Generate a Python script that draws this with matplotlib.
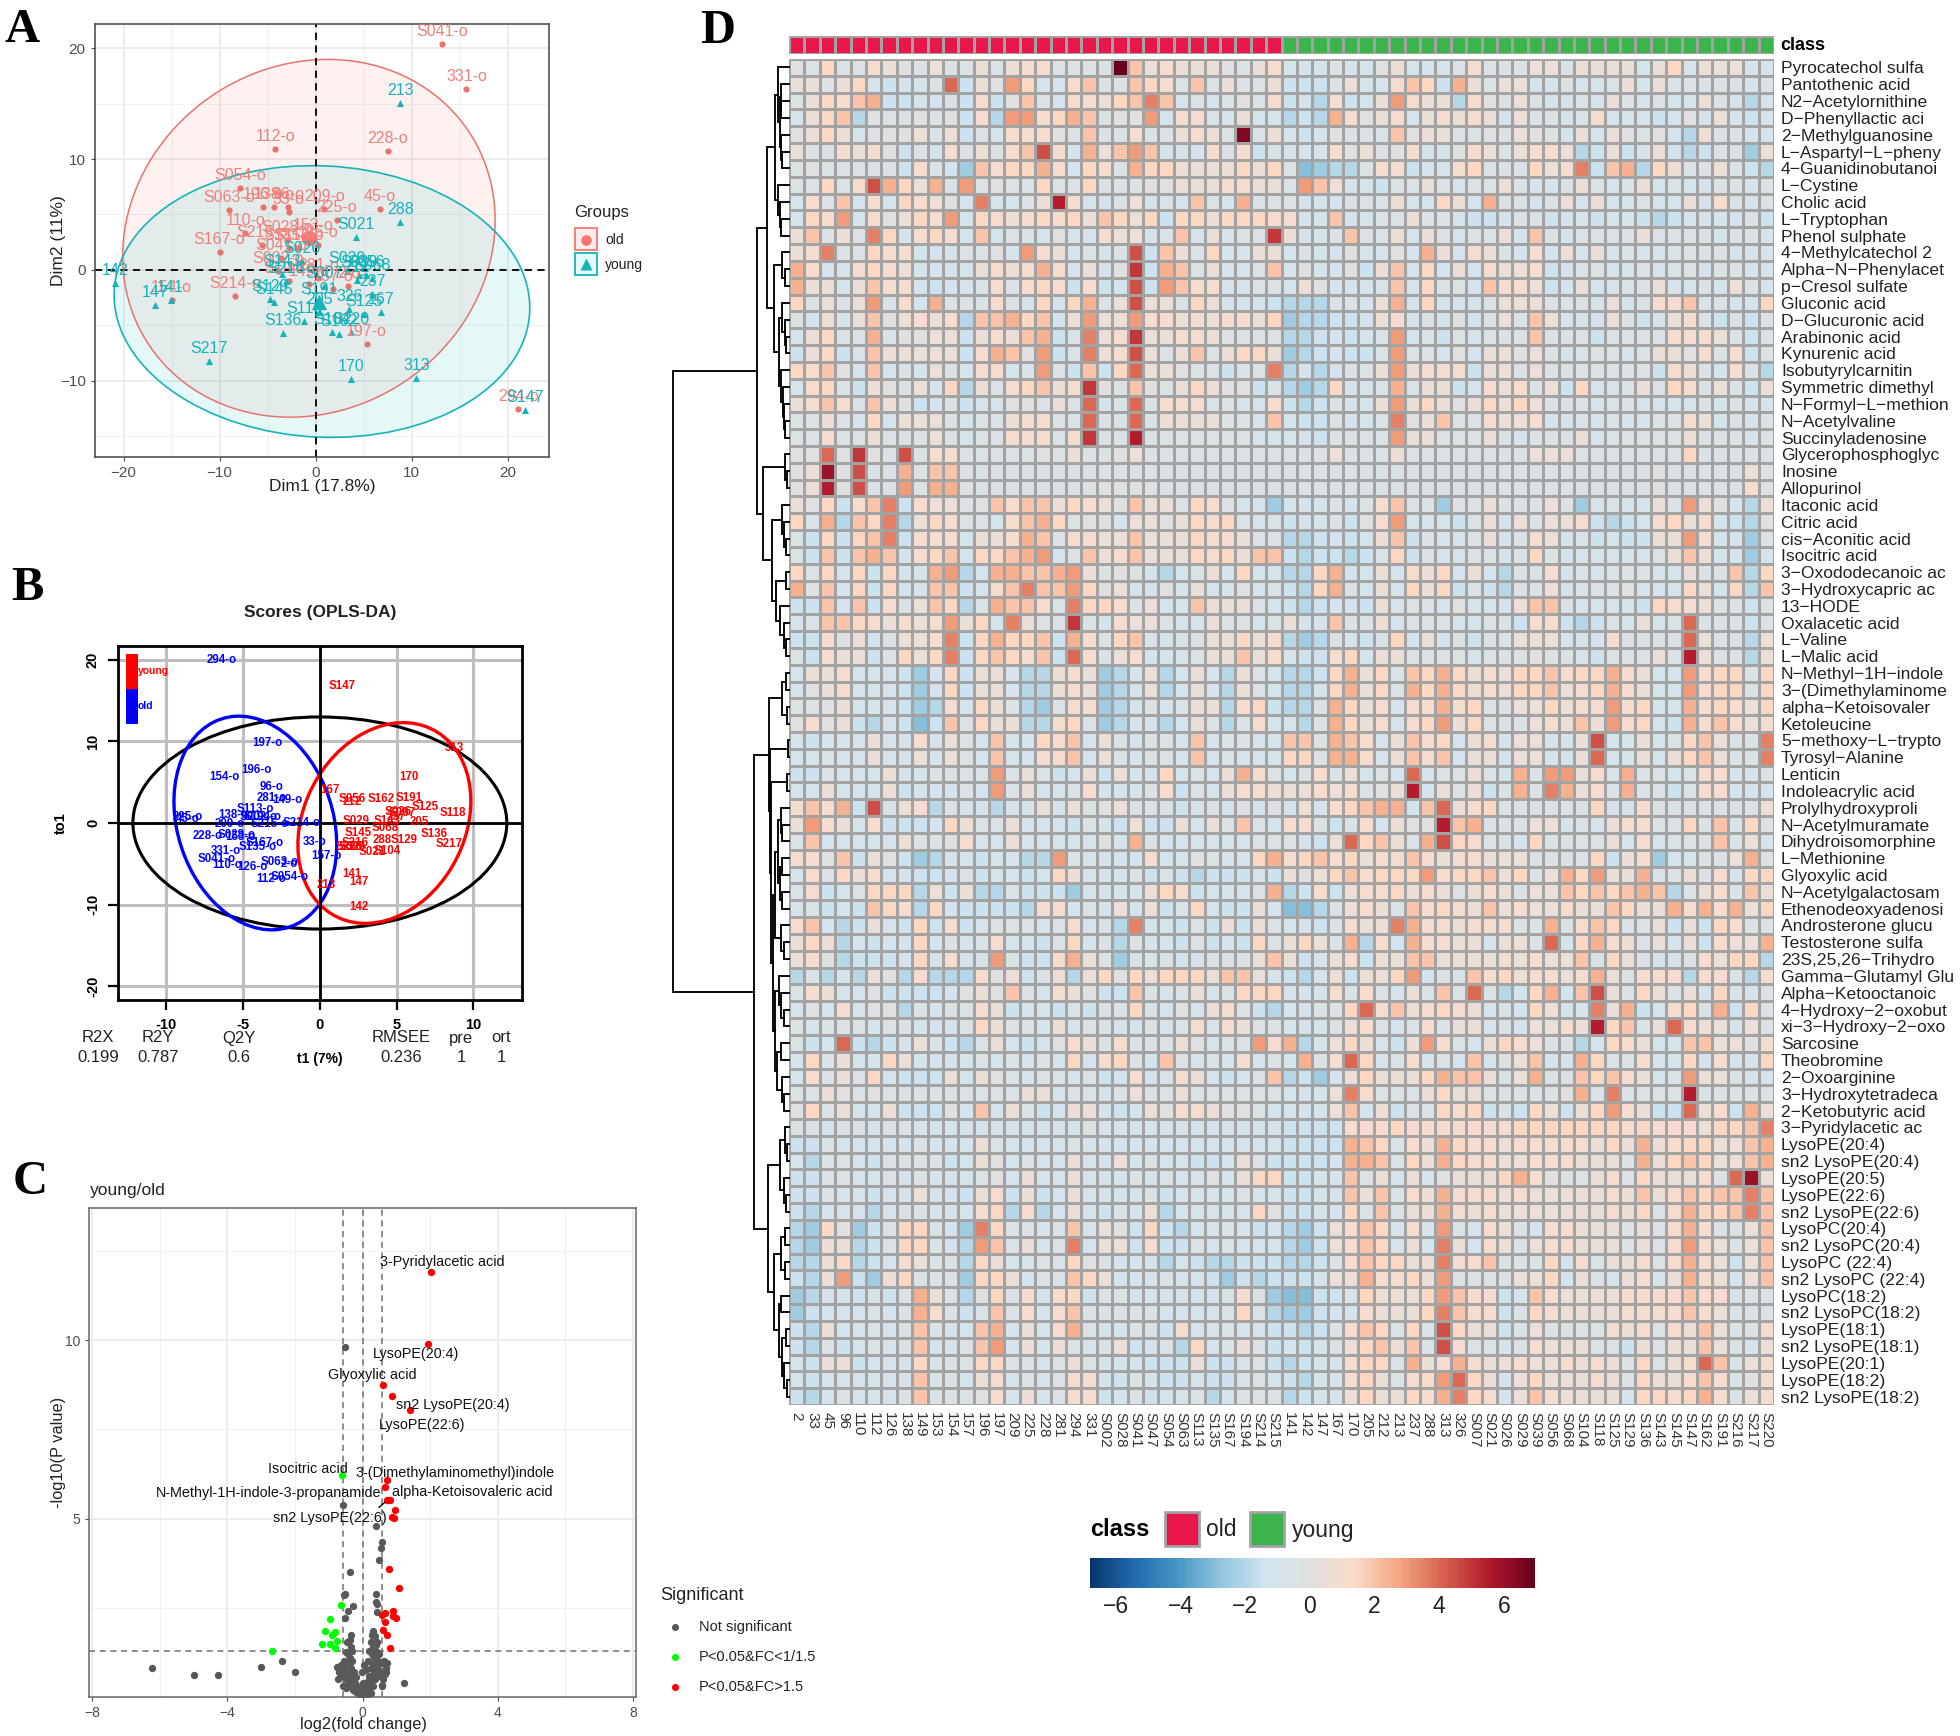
import numpy as np
import matplotlib
matplotlib.use('Agg')
import matplotlib.pyplot as plt
from matplotlib.patches import Ellipse, Rectangle
from matplotlib.colors import LinearSegmentedColormap, ListedColormap

plt.rcParams['font.family'] = ['Liberation Sans', 'DejaVu Sans']

W = 1960.0
H = 1736.0

# panel A, PCA
pca_old_lab = ['S041-o','331-o','112-o','228-o','S054-o','S063-o','196-o','138-o','96-o','33-o','209-o','225-o','45-o','110-o','S028-o','153-o',
               'S215-o','S135-o','S113-o','126-o','S167-o','S047-o','S002-o','281-o','S194-o','S214-o','154-o','149-o','157-o','2-o','197-o','294-o']
pca_old_x = [13.2,15.7,-4.2,7.5,-7.9,-9.0,-5.5,-4.3,-2.9,-2.8,0.9,2.2,6.7,-7.3,-3.0,-0.2,-5.6,-2.8,-1.8,0.3,-10.0,-3.6,-3.9,0.3,-2.8,-8.4,-15.0,-0.7,1.8,3.4,5.3,21.1]
pca_old_y = [20.4,16.3,10.9,10.7,7.4,5.4,5.7,5.7,5.7,5.2,5.5,4.5,5.5,3.3,2.7,2.9,2.2,2.0,2.0,2.2,1.6,1.1,-0.1,-0.7,-1.0,-2.4,-2.7,-1.3,-1.7,-1.5,-6.7,-12.6]
pca_young_lab = ['213','288','S021','S026','142','147','141','S217','S136','170','313','S147','S143','S216','S129','S145','326','S125','S118','S104','S162','S220',
                 'S191','167','237','212','205','S007','S029','S039','S056','S068']
pca_young_x = [8.8,8.8,4.2,-1.4,-20.9,-16.7,-15.1,-11.1,-3.4,3.7,10.5,21.8,-3.5,-3.1,-4.8,-4.3,3.5,5.0,-1.2,1.7,2.4,3.7,0.4,6.8,5.9,4.3,0.4,0.9,3.3,4.5,5.2,5.9]
pca_young_y = [15.1,4.3,3.0,0.8,-1.2,-3.2,-2.7,-8.2,-5.7,-9.9,-9.8,-12.7,-0.4,-1.0,-2.6,-2.9,-3.5,-4.0,-4.6,-5.6,-5.8,-5.6,-2.9,-3.8,-2.2,-0.9,-3.8,-1.5,-0.1,-0.5,-0.5,-0.7]

# panel B, OPLS-DA
opls_old_lab = ['294-o','197-o','196-o','154-o','96-o','281-o','149-o','S113-o','138-o','S002-o','S194-o','225-o','45-o','209-o','S215-o','S214-o','228-o','S028-o','153-o',
                'S167-o','S135-o','33-o','331-o','S041-o','157-o','110-o','126-o','S063-o','2-o','112-o','S054-o']
opls_old_x = [-6.42,-3.4,-4.14,-6.19,-3.16,-3.12,-2.12,-4.19,-5.6,-3.98,-3.75,-8.63,-8.6,-5.84,-3.28,-1.19,-7.28,-5.42,-5.2,-3.56,-4.05,-0.37,-6.14,-6.74,0.42,-6.0,-4.4,-2.63,-2.0,-3.16,-1.95]
opls_old_y = [20.0,9.85,6.46,5.68,4.45,3.06,2.78,1.68,0.94,0.69,0.69,0.69,0.45,-0.16,-0.16,-0.04,-1.63,-1.43,-1.68,-2.49,-2.9,-2.37,-3.39,-4.45,-4.05,-5.19,-5.44,-4.74,-5.07,-6.9,-6.62]
opls_young_lab = ['S147','313','170','167','S056','212','S162','S191','S125','S026','S007','237','S118','S029','S143','205','S068','S145','288','S129','S136','S217','S216',
                  'S039','S220','326','S021','S104','141','147','213','142']
opls_young_x = [1.44,8.74,5.77,0.67,2.12,2.12,4.0,5.81,6.84,5.1,5.35,5.0,8.63,2.37,4.4,6.49,4.28,2.51,4.09,5.51,7.42,8.42,2.3,2.07,1.9,2.4,3.42,4.4,2.12,2.51,0.44,2.53]
opls_young_y = [16.8,9.15,5.6,4.05,2.98,2.57,2.9,3.06,2.0,1.4,1.2,0.7,1.19,0.2,0.29,0.16,-0.57,-1.27,-2.12,-2.04,-1.35,-2.53,-2.49,-2.98,-3.0,-2.9,-3.51,-3.43,-6.21,-7.19,-7.6,-10.26]
model_heads = ['R2X','R2Y','Q2Y','RMSEE','pre','ort']
model_vals = ['0.199','0.787','0.6','0.236','1','1']

# panel C, volcano
up_x = [2.02,1.93,0.62,0.88,1.41,0.71,0.66,0.72,0.8,0.97,0.86,0.92,0.78,1.07,0.91,0.66,0.57,0.9,1.0,0.68,0.61,0.73,0.8]
up_y = [11.92,9.9,8.75,8.43,8.04,6.09,5.87,5.53,5.53,5.24,5.05,5.01,3.58,3.04,2.42,2.34,2.3,2.28,2.21,2.1,1.89,1.73,1.37]
down_x = [-0.61,-0.64,-0.95,-1.1,-0.9,-0.82,-0.76,-1.2,-0.96,-0.8,-2.68]
down_y = [6.21,2.58,2.19,1.84,1.75,1.81,1.57,1.49,1.48,1.36,1.3]
ns_x = [-0.51,-0.59,0.39,0.57,0.54,0.49,-0.37,-0.52,-0.55,0.39,0.41,0.42,-0.27,-0.44,-0.51,0.42,-6.23,-4.99,-4.27,-3.0,-2.38,-2.0,1.22,
        -0.75,-0.7,-0.72,-0.65,-0.6,-0.58,-0.55,-0.5,-0.5,-0.48,-0.45,-0.42,-0.4,-0.38,-0.38,-0.35,-0.33,-0.3,-0.3,-0.28,-0.25,-0.22,-0.2,-0.18,-0.15,-0.12,-0.1,-0.08,-0.05,
        -0.42,-0.35,-0.5,-0.45,-0.38,-0.35,-0.3,-0.55,
        0.05,0.08,0.1,0.12,0.15,0.18,0.2,0.22,0.25,0.25,0.28,0.3,0.3,0.33,0.35,0.38,0.4,0.42,0.45,0.45,0.5,0.5,0.55,0.6,0.65,0.7,0.68,0.72,0.7,0.62,0.57,0.58,
        0.3,0.25,0.27,0.32,0.38,0.42,0.15,0.2,0.35,0.28,0.4,0.1,0.02,-0.02,0.05]
ns_y = [9.8,5.37,4.8,4.33,4.17,3.85,3.5,2.89,2.87,2.88,2.65,2.6,2.54,2.41,2.21,2.39,0.8,0.61,0.62,0.84,1.0,0.71,0.39,
        0.85,0.7,0.5,0.9,0.6,0.3,0.75,0.95,0.5,0.25,0.7,0.4,0.9,0.6,1.1,0.3,0.8,0.5,1.0,0.2,0.7,0.4,0.15,0.55,0.3,0.1,0.25,0.05,0.15,
        1.2,1.4,1.25,1.55,1.6,1.75,1.3,1.0,
        0.1,0.3,0.05,0.2,0.45,0.15,0.6,0.3,0.8,0.1,0.5,0.95,0.3,0.7,1.1,0.5,0.85,1.25,0.6,1.0,1.2,0.75,0.95,0.95,1.0,0.8,0.65,0.95,0.7,0.5,0.3,0.35,
        1.4,1.55,1.75,1.85,1.7,1.55,1.0,1.3,1.5,1.2,1.45,0.75,0.4,0.7,0.9]
volcano_names = ['3-Pyridylacetic acid','LysoPE(20:4)','Glyoxylic acid','sn2 LysoPE(20:4)','LysoPE(22:6)','Isocitric acid','3-(Dimethylaminomethyl)indole',
                 'N-Methyl-1H-indole-3-propanamide','alpha-Ketoisovaleric acid','sn2 LysoPE(22:6)']
volcano_name_x = [2.35,1.58,0.29,2.68,1.76,-1.61,2.75,-2.78,3.25,-0.96]
volcano_name_y = [12.2,9.6,9.02,8.17,7.62,6.4,6.28,5.72,5.73,5.02]

# panel D, heatmap
row_names = ['Pyrocatechol sulfa','Pantothenic acid','N2−Acetylornithine','D−Phenyllactic aci','2−Methylguanosine','L−Aspartyl−L−pheny','4−Guanidinobutanoi','L−Cystine','Cholic acid','L−Tryptophan',
             'Phenol sulphate','4−Methylcatechol 2','Alpha−N−Phenylacet','p−Cresol sulfate','Gluconic acid','D−Glucuronic acid','Arabinonic acid','Kynurenic acid','Isobutyrylcarnitin','Symmetric dimethyl',
             'N−Formyl−L−methion','N−Acetylvaline','Succinyladenosine','Glycerophosphoglyc','Inosine','Allopurinol','Itaconic acid','Citric acid','cis−Aconitic acid','Isocitric acid',
             '3−Oxododecanoic ac','3−Hydroxycapric ac','13−HODE','Oxalacetic acid','L−Valine','L−Malic acid','N−Methyl−1H−indole','3−(Dimethylaminome','alpha−Ketoisovaler','Ketoleucine',
             '5−methoxy−L−trypto','Tyrosyl−Alanine','Lenticin','Indoleacrylic acid','Prolylhydroxyproli','N−Acetylmuramate','Dihydroisomorphine','L−Methionine','Glyoxylic acid','N−Acetylgalactosam',
             'Ethenodeoxyadenosi','Androsterone glucu','Testosterone sulfa','23S,25,26−Trihydro','Gamma−Glutamyl Glu','Alpha−Ketooctanoic','4−Hydroxy−2−oxobut','xi−3−Hydroxy−2−oxo','Sarcosine','Theobromine',
             '2−Oxoarginine','3−Hydroxytetradeca','2−Ketobutyric acid','3−Pyridylacetic ac','LysoPE(20:4)','sn2 LysoPE(20:4)','LysoPE(20:5)','LysoPE(22:6)','sn2 LysoPE(22:6)','LysoPC(20:4)',
             'sn2 LysoPC(20:4)','LysoPC (22:4)','sn2 LysoPC (22:4)','LysoPC(18:2)','sn2 LysoPC(18:2)','LysoPE(18:1)','sn2 LysoPE(18:1)','LysoPE(20:1)','LysoPE(18:2)','sn2 LysoPE(18:2)']
col_old = ['2','33','45','96','110','112','126','138','149','153','154','157','196','197','209','225','228','281','294','331','S002','S028','S041','S047','S054','S063','S113','S135','S167','S194','S214','S215']
col_young = ['141','142','147','167','170','205','212','213','237','288','313','326','S007','S021','S026','S029','S039','S056','S068','S104','S118','S125','S129','S136','S143','S145','S147','S162','S191','S216','S217','S220']

# cell values are stored doubled (half units), first 34 samples and last 30 samples
heat_left_x2 = [
[0,-1,3,-1,-1,2,1,0,-1,1,-1,-1,1,-1,1,2,2,-1,-1,-1,-1,14,4,1,2,1,1,1,0,-1,1,2,-2,-2],
[1,1,-1,1,3,-2,-3,-2,-2,-1,8,-3,1,0,6,3,-2,-2,2,4,-1,-1,4,3,2,-1,4,-1,1,-1,-1,1,-3,-3],
[-1,1,3,2,4,5,-3,-3,-2,-2,-1,-3,2,-3,0,4,-1,-2,2,2,1,3,4,7,4,-2,-1,-2,-1,0,-1,2,-3,-2],
[-2,1,3,4,-4,0,-1,-1,0,-1,0,-3,2,-4,6,6,2,3,5,4,-1,0,0,6,-2,2,2,-1,-2,1,-2,-2,-4,-3],
[0,1,3,1,-2,0,0,0,1,-1,1,-3,-1,-2,2,2,2,0,-1,4,-1,-1,2,-1,-1,1,2,1,-1,13,-1,1,-2,-3],
[1,-1,-1,2,1,2,0,-3,-1,-2,2,-1,1,-1,2,4,9,2,-2,5,1,4,6,4,-2,-2,-2,2,-1,2,-3,-1,-2,-2],
[-1,0,-1,-1,-1,-1,-1,-3,2,-1,-2,-5,4,2,3,3,5,2,-2,3,2,-1,5,3,3,1,1,1,1,3,1,3,-1,-6],
[-1,-1,3,-1,2,9,5,3,1,5,-1,6,-1,0,-1,-1,3,-1,-1,3,-1,-1,-1,0,0,1,1,1,2,2,1,1,-1,6],
[-2,2,-1,4,-2,2,-2,3,2,1,0,-2,7,-2,-2,-1,1,11,2,-2,-2,-1,1,-2,-1,-2,4,-1,-2,5,-1,-1,-1,-2],
[-2,3,2,6,-2,2,0,1,3,2,6,-2,3,2,1,2,3,2,3,1,4,3,1,3,-3,3,3,1,3,3,3,2,2,-2],
[1,4,-1,1,-1,7,3,-2,2,3,2,-2,4,-2,-1,-1,-2,0,-2,-2,2,1,1,-2,-1,4,-2,1,-2,-1,-1,10,1,-2],
[1,2,7,-1,-1,3,2,2,-2,-2,-2,-1,-1,0,-2,6,2,1,-2,-1,-2,-1,9,-3,4,1,-1,3,-2,-2,1,1,-2,-1],
[5,2,-2,-2,2,3,2,1,-2,-2,-2,-2,1,2,1,2,5,2,-2,1,-2,0,10,-3,5,4,-1,1,-2,-2,-1,4,-2,0],
[5,1,1,-2,1,4,2,2,-2,-3,-2,-2,-1,2,-1,2,3,2,-3,2,-3,-2,9,-3,6,4,2,2,-2,-2,-1,-1,-2,1],
[3,-1,1,-1,1,6,-1,2,-2,5,-1,-1,-1,2,-1,-2,3,-2,3,5,-1,1,9,1,1,-1,3,1,-2,-2,-2,-3,-4,-4],
[-1,-2,1,-2,1,4,0,1,2,1,2,-4,4,4,5,3,4,-2,1,6,1,1,6,2,2,1,2,1,2,2,1,3,-5,-4],
[-2,1,3,-1,-1,5,-1,0,0,1,1,-3,1,2,1,4,5,-3,-1,7,1,2,10,1,1,2,2,1,-1,-1,-1,-1,-4,-4],
[-3,1,3,-3,-1,4,1,1,1,1,1,-3,2,5,4,0,6,-3,-1,7,1,2,9,1,-1,1,4,-1,1,3,3,1,-5,-4],
[3,2,4,0,-2,4,-2,-1,-2,1,-1,-2,2,2,-2,-1,6,-1,-3,4,-3,3,8,1,1,0,-1,-1,-3,-1,-1,7,-4,-2],
[-2,2,3,-1,-3,1,0,-1,1,-2,3,-4,1,-1,2,3,4,1,2,10,0,-1,4,0,-1,1,3,1,0,0,-3,-1,-4,-5],
[1,2,4,2,-1,4,1,0,-3,-2,-1,-3,-2,-2,0,0,-1,1,-1,8,-2,-1,8,-1,2,2,2,-1,-1,-2,-2,2,-3,-4],
[-1,-1,1,-1,-2,3,-2,1,1,1,-1,-2,-1,-1,1,2,2,-1,-1,8,-1,-1,8,-1,1,1,1,1,-1,-1,-2,4,-2,-3],
[-1,-1,2,-1,-1,1,-1,-1,-1,1,-1,-2,-1,-1,2,2,2,-1,2,10,-1,-1,11,-1,-1,-1,-1,-1,-1,-1,-2,-2,-2,-2],
[0,0,8,0,10,0,-1,9,-1,2,2,-1,-1,-1,-1,-1,0,-1,1,-1,-1,0,1,-1,-1,-1,-1,-1,-1,-1,-1,-1,-1,-1],
[0,1,12,0,9,-1,-1,5,-1,4,4,-1,-1,-1,-1,-1,-1,-1,-1,-1,-1,-1,-1,-1,-1,-1,-1,-1,-1,-1,-1,-1,-1,-1],
[0,1,11,0,9,-1,-1,6,-1,5,5,-1,-1,-1,-1,-1,-1,-1,-1,-1,0,-1,0,-1,-1,-1,-1,-1,-1,-1,-1,-1,-1,-1],
[1,0,3,-3,2,4,7,-3,2,1,1,-1,0,4,2,4,4,1,3,2,1,0,4,1,1,-1,3,2,-1,-2,-2,-5,-2,-2],
[3,-1,5,-4,4,3,7,-4,1,3,2,-1,-1,-2,2,4,5,3,-1,0,0,-2,1,1,0,1,3,2,3,-1,-2,-1,-3,-2],
[-1,-3,3,-3,3,4,7,-3,2,2,2,-2,1,1,2,5,4,-1,2,2,1,1,4,1,1,1,3,2,2,1,-1,-1,-4,-4],
[-1,-3,4,-3,4,5,4,-2,2,3,4,-2,3,3,4,5,6,-2,-1,4,1,2,4,1,1,1,3,2,3,1,4,4,-3,-4],
[3,-1,3,-2,3,-3,3,-2,-2,5,6,-4,-2,5,5,4,4,5,6,1,-1,0,-1,-2,-4,-2,-1,1,-2,3,-2,-2,-4,-4],
[5,0,4,-2,3,-3,3,-2,-2,4,4,-3,-2,2,4,7,4,4,6,3,0,1,-2,-2,0,-2,1,-2,-2,0,-2,-1,-3,-4],
[-3,-3,4,-2,4,-3,2,-1,1,4,3,-4,-1,5,4,4,2,-1,7,3,3,2,-1,1,-2,-2,4,1,1,1,-1,-2,-3,-4],
[-2,-1,4,4,3,2,1,2,1,2,6,1,3,-2,7,1,-1,-1,10,-1,-2,2,1,1,-1,-2,-2,1,-1,-1,-2,-1,1,-2],
[-3,-3,2,-1,1,-2,-1,1,1,2,7,-3,3,5,3,3,4,-3,5,2,-1,3,4,-1,-2,-1,-1,1,1,3,1,2,-4,-5],
[-1,-3,2,1,1,-3,-1,3,1,3,7,-3,3,4,3,2,4,-3,8,2,-1,1,2,-2,-2,-2,-1,1,1,4,1,2,-2,-3],
[-2,1,1,2,-2,-2,-2,-3,-5,-2,3,-3,1,1,-2,-4,-4,1,2,1,-5,-4,-2,1,-4,-2,1,-2,-4,1,-1,-2,-4,-4],
[-2,0,1,2,-2,-2,-2,-3,-5,-2,3,-3,1,1,-2,-4,-4,1,2,1,-5,-4,-2,1,-4,-2,1,-2,-4,1,-1,-2,-4,-4],
[-1,-1,0,1,-2,-2,-2,-3,-5,-4,2,-2,3,1,-1,-4,-5,-1,2,2,-5,-4,-2,-1,-2,-1,1,1,-4,2,3,-3,-4,-4],
[0,2,0,1,-3,-4,-2,-3,-6,-3,4,-1,3,1,1,-4,-4,2,3,-1,-5,-4,-2,-2,-4,-2,1,-1,-4,-1,2,-2,-2,-4],
[-2,-3,-2,-2,-2,1,-2,-2,2,-2,1,-1,-2,4,-2,-2,3,2,4,-2,1,-1,-2,-1,-1,-2,4,-2,-1,-1,-2,-2,4,4],
[-2,-2,-1,-2,-2,1,-2,-2,1,-2,1,-1,-2,4,-2,-2,2,2,4,-2,1,-1,-2,-1,-1,-2,4,-2,-1,-2,-2,-2,3,3],
[-3,-3,-1,-2,-2,-2,1,-2,-2,-1,-1,-1,-1,6,-1,1,-1,-3,-2,1,-3,1,-2,-2,3,-2,-1,-2,1,5,2,-1,-2,-1],
[-2,-2,1,-2,-2,-2,1,-3,-2,-2,-2,-1,-2,6,-1,1,-2,-2,-1,2,-2,-2,-2,-1,2,-3,-1,-2,1,2,2,1,1,1],
[2,4,2,5,-3,9,-1,1,2,-4,-1,-2,-2,-4,-2,-2,1,-2,1,-1,0,1,-1,-1,-1,-3,-2,-1,-2,0,-2,0,-2,1],
[1,6,2,1,-2,2,-3,-3,-3,-2,3,1,-1,-1,1,-2,-2,-2,-3,-1,-2,-3,1,-3,-3,1,-2,1,-1,4,-1,-2,2,2],
[-1,4,-2,-2,-2,-2,-2,1,-1,-1,0,2,-2,-2,1,-2,-2,-2,-2,-2,0,-2,5,-1,-2,-2,-2,-2,-2,-2,-1,-1,-1,-2],
[2,2,0,4,-3,1,0,-3,-5,-4,-2,-2,-3,-2,-2,-4,-4,6,-1,-2,-2,-2,-2,2,-2,-2,0,-1,-2,-2,3,5,2,3],
[-2,2,-1,3,1,2,-2,-2,-3,-3,-2,-1,-3,-2,-2,-3,-2,3,1,-2,-2,-2,-1,-3,-1,-3,-4,-3,-3,-3,-1,-3,1,0],
[-1,2,-3,-2,-1,3,3,3,-4,1,-3,1,-4,-4,-1,-3,-3,-3,-5,-2,-2,-2,-2,1,3,2,-3,-2,-2,-2,-1,5,-4,-3],
[-2,-1,-3,-2,-3,4,3,2,-4,3,-2,-3,-3,-3,-3,-4,2,2,-2,-1,-2,1,-2,1,-3,-1,3,-2,-3,-3,1,-2,-6,-6],
[2,4,-2,-4,-3,1,-2,-3,3,-3,2,-3,-2,-1,-1,-1,-2,-1,2,-2,-1,-4,7,-2,-2,-3,-1,-3,1,-3,1,-1,-2,-2],
[1,3,1,-4,-2,-3,-2,-2,3,-2,-1,-2,-1,2,-2,-2,-3,-1,3,-2,-1,-4,-1,-2,-2,-3,-1,-3,-2,-3,3,-1,1,3],
[1,2,0,-4,-3,-3,-3,-2,3,-1,2,-2,-1,6,-1,-3,-3,2,5,1,-1,-5,-1,-2,-1,-2,-2,-1,-1,-1,1,4,1,-3],
[-4,-1,-4,-2,-4,1,0,-4,2,-4,-4,-4,2,0,1,-3,-1,1,-4,1,3,0,3,1,3,3,3,1,4,4,1,-2,-3,-4],
[-1,2,1,-2,-2,0,-3,-3,-3,-3,-2,0,1,0,4,-1,-2,2,1,0,-3,-3,4,-1,-2,-1,1,-2,-1,3,3,3,-2,-2],
[-2,0,-2,2,-2,0,0,-4,-1,-2,-1,-1,2,1,-3,-2,-2,-3,-1,-3,-1,-1,3,-1,-2,0,-2,1,2,-1,-3,-4,-2,-2],
[-1,-2,-1,-1,-1,-2,-1,-1,-2,-2,-2,-1,3,1,-1,-1,-2,1,-2,-1,-1,-2,-2,-1,-2,-1,2,-1,2,1,-1,-1,-2,-2],
[-1,-3,-2,8,-3,-4,-3,-2,1,-1,-3,-4,-1,1,-2,-3,-2,0,2,1,-1,2,-1,-1,-1,1,0,-2,-1,-1,6,2,5,-4],
[-2,3,-1,1,-2,-2,3,1,-2,-2,-2,-2,-1,-2,-1,-2,-1,-2,3,-2,2,3,-1,-2,4,-1,-2,-1,-2,2,-2,-1,-2,5],
[-2,2,-1,1,-1,3,-2,-3,-3,-3,1,-2,1,0,-1,-2,-1,-1,-2,-1,-3,-2,2,-2,-1,2,1,-2,-3,-2,-1,4,-4,-3],
[-1,-1,1,0,-1,0,-1,-1,-1,-1,-1,-1,-1,-1,-1,1,1,-2,-1,-1,-2,-1,1,-1,-1,1,-1,-1,-1,-1,-1,-1,-2,-2],
[0,3,-1,1,-2,-2,1,-3,-3,-3,0,-2,4,-2,1,-1,-3,-2,1,1,-2,-3,-2,1,0,2,2,1,0,0,-1,-2,-2,-2],
[-1,-1,-2,-1,-1,-2,-1,-1,-2,-2,-2,-2,-2,-2,-2,-2,-2,-2,-2,-1,-2,-2,-2,-2,-2,-2,-2,-2,-2,-2,-2,-2,-3,-3],
[-3,-3,-1,-2,-2,-2,-2,-2,-1,-2,-2,-2,1,-1,-2,-2,-2,-2,-1,-2,-2,-2,-2,-2,-2,-2,-2,-2,-2,-2,-2,-2,-3,-3],
[-2,-4,-1,-1,-2,-3,-1,-1,-1,-1,-3,-2,1,0,-2,-1,-2,-2,1,-2,-2,1,-2,-1,-2,-2,-3,-3,-2,1,-1,-3,-3,-3],
[-3,-3,-1,-1,-2,-2,-1,-2,-1,-2,-2,-2,-1,0,-2,1,-2,-2,1,-2,-2,-2,-1,-2,-1,-2,-2,0,-2,1,3,3,-3,-3],
[-3,-3,-1,-2,-2,-3,-2,-2,1,-2,-2,-3,1,2,-3,1,-3,-2,1,-2,-2,-2,-2,-1,-3,-2,-2,-2,-2,-1,-2,-2,-3,-3],
[-3,-4,-2,-2,-2,-4,-2,-1,-1,-2,-2,-2,2,3,-4,2,-4,-2,1,-2,-3,-1,-2,1,-4,-2,-2,-2,-2,-2,3,0,-3,-3],
[-4,-5,3,0,-5,-3,-1,3,3,-1,-2,-5,7,3,-1,-1,-2,-1,4,-2,1,0,-3,3,-3,-4,-2,-2,-1,-2,-3,-2,-4,-5],
[-4,-5,1,1,-4,-3,-1,3,3,-1,-2,-4,6,4,-1,1,-2,-1,7,-2,1,1,-3,2,-3,-3,-1,-2,-1,-2,-2,-2,-4,-5],
[-4,-4,1,3,-4,-3,-2,2,1,-1,-1,-4,3,1,-2,-2,-1,-1,3,0,-1,-2,-2,-2,-4,-2,-3,-4,-4,-3,-3,-3,-4,-4],
[-3,-4,1,6,-3,-5,1,3,-1,-1,-1,-5,3,3,1,-2,-1,-1,4,3,1,-2,-2,-2,-1,-2,-2,-3,-5,-3,-4,-3,-3,-3],
[-5,-4,-2,-2,-3,-1,-3,-1,5,1,-1,-4,0,3,-1,2,-2,2,3,-3,-1,-1,-2,-2,-2,-2,-2,-2,-1,2,-1,-5,-6,-6],
[-5,-3,-2,-2,-2,-1,-2,-1,5,2,-1,-3,-1,4,-1,2,-2,2,4,-1,-1,-1,-1,-1,-2,-2,-2,-2,-1,3,-1,-4,-5,-5],
[-3,-4,1,-2,-2,-1,-2,-1,4,-1,-2,-2,4,5,-2,1,-2,2,5,-1,-2,-2,-1,-1,-3,2,-2,-2,-1,-2,-2,-3,-3,-4],
[-3,-4,-1,-3,-2,-1,-2,-1,4,-2,-2,-1,4,6,-2,1,-2,1,-1,-2,-1,1,-3,-2,-1,-4,3,-2,-1,1,-1,-3,-2,-3],
[-2,-3,1,1,-3,-2,-2,-2,3,-1,-1,-1,3,3,-1,-1,-2,-1,1,-1,-2,-2,-2,-3,-3,-3,1,-3,-3,-1,-1,-3,-4,-3],
[-2,-3,-2,-2,-2,-2,-2,-2,4,-1,-1,-2,1,2,-2,-1,-2,-1,2,2,-2,-3,-1,-2,-3,-3,-2,-3,-3,-1,-1,-2,-3,-4],
[-3,-4,-2,-1,-2,-2,-2,-1,4,-1,-1,-1,0,2,-2,1,-2,-1,2,2,-3,-2,-1,-3,-2,-2,-1,-4,-2,-1,-1,-1,-4,-3],
]
heat_right_x2 = [
[-2,-1,-2,-2,0,1,-2,-2,-2,-1,2,-1,-1,-1,1,1,-1,1,1,1,1,-2,1,3,-2,1,1,1,-2,-2],
[-3,-1,1,-2,-2,2,4,3,-3,5,1,-1,1,1,-2,-2,-1,-2,-2,-1,1,-2,1,-1,-1,-1,-1,-1,-2,-1],
[-4,2,-3,-2,1,6,2,1,1,-4,2,0,-1,1,-1,-2,-2,-1,-2,1,-1,-2,-1,-2,-2,1,-1,-2,-4,-2],
[-4,5,2,0,1,2,-2,1,2,1,2,1,-2,1,-1,-1,-2,-1,2,-2,-2,-2,-3,-2,0,-2,1,-2,-3,-2],
[-2,0,-1,-1,-1,4,0,1,1,-1,-1,0,-1,1,0,-1,-2,1,-2,1,0,-1,0,-2,-4,1,-1,-1,-2,-2],
[-2,2,0,1,-1,0,2,-2,-2,0,2,1,-1,1,2,2,1,-4,-3,1,-3,-2,1,-2,-4,-3,-1,-1,-5,1],
[-5,-4,-4,-1,2,2,-3,-2,-2,2,3,-1,-1,-1,3,1,2,7,-3,4,5,-4,3,1,-1,-1,1,-1,-3,-4],
[4,1,-2,-2,-3,-1,-1,1,-1,-2,-1,-1,1,-1,-2,-2,-1,1,-1,-2,-1,1,-2,-1,-2,-2,-1,-1,-2,-1],
[-2,-2,-1,-1,-1,1,-2,-2,3,1,-2,5,-1,-1,-2,-1,1,-2,1,-2,-2,-1,-2,-2,1,-2,2,-1,-2,-1],
[-2,4,-2,-2,-1,-1,1,-1,-1,-2,-3,-3,-2,-1,-1,-3,-2,-2,-3,-2,-2,-3,-4,-3,-2,-2,-2,-2,-1,-3],
[-2,-1,4,-1,-1,1,-2,1,-1,-2,-1,-1,1,-2,4,-1,-2,-1,-1,-1,-1,1,-1,-1,-1,-1,-2,-1,-1,-2],
[-2,-2,0,-2,-2,0,-2,5,1,-2,2,1,-1,-2,2,-2,1,-2,1,-2,-1,-2,-2,-1,-1,-1,-1,-2,-2,-2],
[-2,-2,0,-3,1,4,-2,3,-2,1,-2,2,1,1,2,-3,-2,-1,-1,-2,-2,-1,-2,-1,-1,-2,-1,-1,-2,-2],
[0,-2,-2,-2,-1,4,-2,3,-1,-1,-2,4,2,2,1,-3,-2,1,-2,-2,-1,-1,1,-2,-2,-1,-2,1,-1,-2],
[-4,-1,-1,-2,1,5,-2,3,-2,-2,-2,-1,1,1,1,-1,-1,-1,-2,1,-2,-1,2,2,4,-1,-1,-2,-2,3],
[-4,-3,-3,-2,1,2,-2,-1,-2,0,-2,-1,1,-1,4,1,-2,-2,-2,1,-1,-3,-2,1,2,-1,-3,-1,-3,-1],
[-3,-2,-3,-2,-1,6,-2,-1,-3,-1,-2,-1,-1,-1,4,-1,-1,-1,-3,-1,-1,-1,-1,2,2,2,1,-1,-3,-1],
[-3,-2,-3,-3,-1,6,-1,-1,-2,0,-2,1,1,0,1,-1,-2,-1,-1,-1,-2,-1,1,1,0,2,-1,2,-3,-1],
[-4,-2,-1,-1,1,6,1,2,2,2,-3,1,1,-1,1,-1,-1,-1,-1,-1,-1,-1,-3,2,1,-1,-2,2,-1,-4],
[-4,3,-2,-2,-1,5,-1,1,1,-3,-2,2,1,2,-1,1,-3,3,-2,-2,-1,1,-1,3,2,-1,1,-1,-3,1],
[-3,-1,-2,-2,1,6,1,3,1,0,1,3,1,3,1,-1,-1,-1,-2,-1,-1,-2,-2,-2,-2,-1,-2,-1,-2,-2],
[-3,-1,-2,-2,-1,7,0,1,4,-1,-1,2,1,1,2,-2,-2,-1,-2,-1,-2,-2,-1,-1,2,1,-2,-1,-2,-1],
[-3,-1,-1,-1,-1,6,1,1,-1,-1,-1,1,-1,-2,-1,-1,-1,1,-2,-1,-1,-1,-1,-1,1,-1,-1,-1,-2,-1],
[-1,1,-1,-1,-1,1,-1,-1,-1,-1,-1,-1,-1,-1,1,1,1,-1,-1,-1,-1,-1,-1,-1,3,-1,-1,-1,-1,-1],
[-1,-1,-1,-1,-1,-1,-1,-1,-1,-1,-1,-1,-1,-1,-1,-1,-1,-1,-1,-1,-1,-1,0,-1,-1,-1,-1,-1,1,-1],
[-1,-1,-1,-1,-1,-1,-1,-1,-1,-1,-1,-1,-1,-1,-1,-1,-1,-1,-1,-1,-1,-1,0,-1,-1,-1,-1,-1,2,-1],
[-2,-1,-2,-1,2,4,-1,-1,-5,-1,-1,1,-1,-1,-1,1,-1,-5,-2,-1,-2,-2,1,-1,6,1,0,-2,-4,1],
[-2,-1,-3,0,2,6,-2,-2,-2,-3,-1,1,-2,1,-1,1,1,2,-3,-4,-3,-2,2,3,1,2,-2,-3,-4,0],
[-3,-2,-3,-2,1,4,-3,-1,-2,-2,-1,1,-2,-1,2,1,-2,-1,-3,-2,-3,-3,1,1,6,2,-2,-2,-5,-1],
[-3,-3,-4,-3,-1,3,-3,-1,-2,-2,-1,-1,-2,-1,3,-1,-2,-2,-2,-2,-2,-2,-1,1,4,1,-2,-2,-5,-2],
[3,5,-2,-2,1,-2,2,1,3,-2,1,-2,-4,-1,-1,2,-2,-1,-2,-1,-1,-1,-2,-2,1,-1,-1,4,-4,3],
[3,5,-1,-2,1,-2,3,1,3,-3,-1,-3,-4,-1,-1,1,-2,-1,-1,-1,0,-2,-2,-2,3,1,-2,3,-4,4],
[-3,-2,-2,-3,1,-2,-1,-1,-2,0,-2,-2,-2,1,4,4,-1,-2,-2,-2,-2,-3,3,2,2,1,-1,-1,-3,-1],
[-2,4,-1,-1,1,-2,-1,-1,-1,-2,-2,-1,-1,-3,2,2,-3,-4,-3,-1,-2,1,-2,-1,8,-1,-1,-1,-3,-1],
[-4,-1,-2,-3,-1,3,-2,1,-2,-1,-3,-1,-1,1,1,1,-2,-2,-2,2,-1,-1,-1,-1,8,1,-1,-1,-4,1],
[-3,2,3,-2,1,1,-1,-1,-1,-1,-2,-1,-1,-1,0,-1,-1,-2,-3,-1,-1,-1,1,-1,11,1,-1,-1,-4,1],
[-3,3,5,1,3,-1,4,3,5,3,1,2,1,3,3,4,2,3,3,5,2,1,-2,-2,6,2,3,3,-1,3],
[-2,3,5,1,3,-1,5,3,5,3,1,2,1,3,3,4,1,2,3,5,2,1,-2,-2,6,2,3,3,-1,3],
[-1,5,3,1,2,-2,2,2,5,2,3,-1,-1,1,1,3,1,2,2,6,2,3,-2,-2,5,2,3,2,1,3],
[-1,5,3,1,2,-2,2,3,6,1,3,-1,-1,-1,1,2,1,4,1,6,2,3,-2,-3,5,2,4,2,1,2],
[-1,5,4,2,-2,1,4,2,3,-2,1,2,-2,1,1,-2,-2,1,9,-2,-2,1,-2,-1,3,4,1,-1,-1,7],
[-1,5,5,2,-2,1,4,2,4,-2,1,1,-2,1,1,-2,-2,1,8,-2,-2,1,-2,1,3,4,1,-1,-1,7],
[2,-1,1,-2,-1,-2,8,-2,-1,-1,1,-1,-2,5,-1,6,6,1,2,-1,5,-1,-1,-2,-1,2,2,-2,-2,-1],
[2,1,2,-1,0,1,11,-2,1,-1,1,-3,-1,5,-1,7,5,1,2,-1,5,-1,-1,-3,-1,2,2,-2,-2,-2],
[-2,2,3,4,5,5,-2,4,8,1,2,3,-1,-1,-1,-1,-1,-1,3,-2,-2,2,-1,-1,-1,-1,-1,-1,-1,1],
[-1,-3,-1,2,-2,1,0,0,11,4,5,-1,-1,-1,1,1,-2,-1,-2,1,2,2,-1,-1,3,-1,4,-1,3,-1],
[-3,1,8,3,4,1,-1,5,9,3,2,-1,-1,-2,3,-1,-1,-1,-1,1,-2,2,-2,-1,-1,-1,4,-1,1,-2],
[4,2,3,1,2,2,4,2,1,2,2,1,1,1,-1,-1,-1,-1,3,-3,1,2,-5,-2,-2,-1,-1,1,5,-1],
[1,3,4,2,3,3,3,6,2,3,3,4,1,3,-1,1,5,3,6,1,1,5,-1,-1,1,-1,2,-2,3,3],
[2,-3,1,2,2,3,1,2,1,-1,1,2,1,-1,1,1,4,3,4,3,4,5,4,-4,-1,1,2,-1,4,1],
[-4,-1,1,2,1,-1,4,2,3,2,1,4,1,2,1,1,2,1,1,4,3,1,1,5,2,5,2,5,1,3],
[-3,-1,2,1,1,7,5,2,2,1,2,2,2,-1,-1,5,-1,2,4,3,-1,-1,1,-3,1,-3,3,2,-1,-1],
[1,-1,5,-4,2,-2,5,2,2,1,1,-2,1,1,-1,8,-2,3,5,2,1,-1,1,-2,1,-3,2,1,1,5],
[-2,1,2,-3,1,1,4,4,1,1,1,1,2,1,2,1,1,4,-1,3,1,-1,-2,-2,-1,2,1,3,3,-4],
[-2,1,-3,1,1,3,6,-2,-1,-1,4,2,3,1,2,2,1,2,5,1,-1,2,2,2,-4,2,2,-1,-4,2],
[-2,2,-1,2,-1,-2,1,-1,4,-1,8,-1,-4,-2,3,5,-2,4,9,1,-1,3,1,-1,1,-2,3,-1,-2,-1],
[-1,-1,3,8,2,4,1,2,3,2,1,-2,-1,-2,3,1,-2,-2,7,1,5,-3,-2,2,3,-1,5,-3,3,-1],
[-2,-1,1,2,-1,-2,-1,2,-1,1,1,-2,-1,-2,1,1,2,1,11,3,4,-1,1,8,2,1,1,-2,1,-1],
[-2,1,3,1,-2,-3,1,6,2,-1,-2,1,3,2,1,-1,-1,-4,-2,3,2,1,-2,-2,4,4,1,1,0,2],
[-1,2,8,3,-2,-1,2,-2,-1,-2,4,-2,0,1,4,-2,-2,5,3,-1,-1,2,-2,-2,3,-2,2,-2,-2,3],
[-5,-2,1,3,1,1,1,3,5,4,4,1,-1,1,5,-1,-1,4,3,4,2,1,-2,-1,6,1,1,-1,-2,-2],
[-2,1,7,2,-1,-1,-1,1,3,1,1,-1,-1,-1,-1,-1,0,5,-1,7,-1,-1,-1,-1,11,-1,-1,-1,-1,-1],
[-2,1,4,-2,1,-3,-1,-1,3,2,3,-3,-1,-3,3,1,-3,1,3,6,2,1,-3,-3,8,1,2,-3,5,1],
[-3,-3,2,2,2,3,2,2,2,2,2,2,2,3,3,3,3,3,3,3,2,3,2,2,2,1,3,3,4,7],
[-3,-3,5,4,3,-1,2,1,5,3,2,2,1,2,2,2,2,2,1,3,1,5,1,2,3,3,1,1,4,5],
[-3,-2,5,5,4,-1,3,1,5,3,2,2,1,1,2,2,2,1,1,1,-1,5,1,3,4,3,1,1,4,5],
[-2,-2,4,-1,1,-2,1,-2,0,1,1,1,3,5,2,0,-1,-1,1,2,-1,3,1,1,1,2,-1,8,12,1],
[-2,-2,4,1,4,-1,2,1,5,2,2,2,1,2,1,1,1,1,1,2,1,4,1,2,4,3,4,4,7,4],
[-2,-2,3,-1,4,-1,1,1,5,2,1,2,1,1,1,1,1,1,1,2,1,3,-1,2,5,3,3,4,7,4],
[-3,1,2,4,3,-2,2,-2,6,-1,-2,2,1,-1,-2,2,2,1,1,1,-1,1,-1,2,5,2,-1,-1,1,4],
[-3,1,2,4,3,-2,1,-2,7,1,-2,2,1,-1,1,2,2,1,1,1,-1,1,-1,2,6,2,1,-1,1,4],
[-3,-1,2,4,3,3,1,1,7,2,2,4,-1,-1,-1,3,-2,2,-1,1,1,2,-1,2,5,2,1,-3,1,4],
[-2,1,1,5,2,2,3,1,6,-1,-1,-1,-1,1,1,3,-2,1,-1,-2,1,2,-2,1,5,2,1,-2,1,4],
[-3,-3,-1,3,1,1,1,3,6,4,2,2,-3,-2,4,2,1,1,1,1,2,2,2,2,4,2,2,-1,-1,-1],
[-3,-2,-2,2,1,1,1,3,7,4,2,2,-3,-1,3,2,1,1,1,1,2,2,2,2,4,2,1,-1,-1,-1],
[-3,-1,2,4,3,-1,3,-1,9,3,1,1,-3,-1,1,-1,-1,-1,-1,2,1,2,-1,2,1,4,1,-1,-1,2],
[-2,-1,1,3,4,1,4,-1,9,2,-1,-1,-2,-1,2,1,1,1,-1,-1,-3,1,-1,1,1,4,1,-1,-2,1],
[-2,-2,2,3,3,-1,5,1,2,5,2,1,1,2,1,1,2,1,2,1,-1,3,-1,1,2,8,4,-1,1,2],
[-2,-2,2,3,1,-1,2,2,6,8,3,1,-2,1,3,1,1,1,2,1,-1,3,1,1,2,4,2,-1,0,2],
[-2,-2,1,3,1,1,3,2,5,7,3,2,-2,1,4,2,1,1,1,1,-2,3,3,2,3,5,2,-1,1,2],
]

heat = np.hstack([np.array(heat_left_x2), np.array(heat_right_x2)]) / 2.0

# dendrogram: [height in px, upper branch, lower branch], a plain int is a row
branch_a = [14, [11, 0, [9.5, [8.5, 1, [8, 2, 3]], [8, 4, [7.5, 5, 6]]]], [11, 7, [9, 8, [8, 9, 10]]]]
branch_b = [15, [7, 11, [4.5, 12, 13]], [10, [7.5, 14, [4, 15, [3, 16, 17]]], [8, 18, [6, 19, [5, 20, [4, 21, 22]]]]]]
branch_c = [26, [4, 23, [2, 24, 25]], [17, [7, 26, [5, 27, [3, 28, 29]]], [13, [3, 30, 31], [9, 32, [5, 33, [3, 34, 35]]]]]]
branch_d = [16, [14, [11, [8, 44, [7, 45, 46]], [9, [7, 47, 48], [7, 49, 50]]], [8, 51, [5, 52, 53]]],
            [14, [10, 54, [8, 55, [5, 56, 57]]], [12, [8, 58, 59], [7, 60, [5, 61, 62]]]]]
branch_e = [20, [7, [3, 36, 37], [2, 38, 39]], [19.5, [1, 40, 41], [18.5, [2, 42, 43], branch_d]]]
branch_f = [21.5, [9, [4, 63, [2, 64, 65]], [5, 66, [3, 67, 68]]],
            [15, [8.5, [4, 69, 70], [4, 71, 72]], [10, [8.5, 73, 74], [7, [3, 75, 76], [5, 77, [2, 78, 79]]]]]]
row_tree = [116.5, [32, [22, branch_a, branch_b], branch_c], [35, branch_e, branch_f]]

legend_sig = ['Not significant', 'P<0.05&FC<1/1.5', 'P<0.05&FC>1.5']
sig_colors = ['#595959', '#00ff00', '#ff0000']


def px_ax(l, t, r, b):
    return fig.add_axes([l / W, 1 - b / H, (r - l) / W, (b - t) / H])


def ftext(x, y, s, **kw):
    kw.setdefault('va', 'center')
    fig.text(x / W, 1 - y / H, s, **kw)


def draw_tree(ax, node):
    if isinstance(node, int):
        return node + 0.5, 0
    y1, h1 = draw_tree(ax, node[1])
    y2, h2 = draw_tree(ax, node[2])
    h = node[0]
    ax.plot([h1, h, h, h2], [y1, y1, y2, y2], color='k', lw=1.35, solid_joinstyle='miter', clip_on=False)
    return (y1 + y2) / 2, h


fig = plt.figure(figsize=(19.6, 17.36), dpi=100)

for letter, x, y in [('A', 4, 42), ('B', 11, 600), ('C', 13, 1194), ('D', 700, 43)]:
    ftext(x, y, letter, family='Liberation Serif', weight='bold', fontsize=35, va='baseline')

lg = fig.add_axes([0, 0, 1, 1], facecolor='none', zorder=5)
lg.set_xlim(0, W)
lg.set_ylim(H, 0)
lg.axis('off')

# ---- A ----
ax = px_ax(94.7, 24, 549, 457)
ax.set_xlim(-23, 24.3)
ax.set_ylim(-16.9, 22.2)
ax.set_axisbelow(True)
ax.set_xticks([-20, -10, 0, 10, 20])
ax.set_yticks([-10, 0, 10, 20])
ax.set_xticks([-15, -5, 5, 15], minor=True)
ax.set_yticks([-15, -5, 5, 15], minor=True)
ax.grid(True, which='major', color='#ebebeb', lw=1.3)
ax.grid(True, which='minor', color='#f0f0f0', lw=0.7)
ax.tick_params(which='minor', length=0)
ax.tick_params(which='major', labelsize=11, colors='#4d4d4d', length=3, width=0.8)
for s in ax.spines.values():
    s.set_color('#444444')
    s.set_linewidth(1.1)
ax.add_patch(Ellipse((-0.7, 2.85), 39.2, 31.8, angle=14.4, fc='#F8766D', alpha=0.1, ec='none'))
ax.add_patch(Ellipse((0.66, -2.86), 43.3, 24.5, angle=-2.2, fc='#00BFC4', alpha=0.1, ec='none'))
ax.add_patch(Ellipse((-0.7, 2.85), 39.2, 31.8, angle=14.4, fc='none', ec='#E8736C', lw=1.1))
ax.add_patch(Ellipse((0.66, -2.86), 43.3, 24.5, angle=-2.2, fc='none', ec='#14B4BA', lw=1.2))
ax.axhline(0, color='k', ls='--', lw=1.3, dashes=(4, 3))
ax.axvline(0, color='k', ls='--', lw=1.3, dashes=(4, 3))
ax.scatter(pca_old_x, pca_old_y, s=20, color='#E8736C', marker='o', lw=0, zorder=3)
ax.scatter(pca_young_x, pca_young_y, s=26, color='#14B4BA', marker='^', lw=0, zorder=3)
ax.scatter([-0.7], [2.85], s=120, color='#F8766D', marker='o', lw=0, zorder=3)
ax.scatter([0.4], [-2.9], s=120, color='#14B4BA', marker='^', lw=0, zorder=3)
for x, y, t in zip(pca_old_x, pca_old_y, pca_old_lab):
    ax.annotate(t, (x, y), xytext=(0, 9), textcoords='offset points', ha='center', va='center', color='#F0807A', fontsize=11.5, zorder=4, annotation_clip=False)
for x, y, t in zip(pca_young_x, pca_young_y, pca_young_lab):
    ax.annotate(t, (x, y), xytext=(0, 9), textcoords='offset points', ha='center', va='center', color='#14B4BA', fontsize=11.5, zorder=4, annotation_clip=False)
ftext(322, 486, 'Dim1 (17.8%)', ha='center', fontsize=12.5, color='#222222')
ftext(58, 241, 'Dim2 (11%)', rotation=90, ha='center', fontsize=12.5, color='#222222')
ftext(574, 213, 'Groups', fontsize=12, color='#222222')
ftext(605, 240, 'old', fontsize=10, color='#222222')
ftext(605, 265, 'young', fontsize=10, color='#222222')
lg.add_patch(Rectangle((574.5, 228), 22.5, 22, fc='#fdeceb', ec='#F8766D', lw=1.3))
lg.add_patch(Rectangle((574.5, 253), 22.5, 22, fc='#e6f8f9', ec='#14B4BA', lw=1.3))
lg.scatter([586], [239.5], s=58, color='#F8766D', lw=0)
lg.scatter([586], [264], s=75, color='#14B4BA', marker='^', lw=0)

# ---- B ----
ax = px_ax(118, 646, 522, 1000)
ax.set_xlim(-13.14, 13.16)
ax.set_ylim(-21.7, 21.7)
ax.set_axisbelow(True)
ax.set_xticks([-10, -5, 0, 5, 10])
ax.set_yticks([-20, -10, 0, 10, 20])
ax.grid(True, color='#bebebe', lw=2.2)
ax.axhline(0, color='k', lw=2)
ax.axvline(0, color='k', lw=2)
for s in ax.spines.values():
    s.set_linewidth(2)
ax.tick_params(width=1.6, length=7, labelsize=10.5, pad=6)
ax.set_xticklabels(['-10', '-5', '0', '5', '10'], fontweight='bold')
ax.set_yticklabels(['-20', '-10', '0', '10', '20'], fontweight='bold', rotation=90, va='center')
ax.add_patch(Ellipse((0, 0), 24.34, 26, fc='none', ec='k', lw=2.2))
ax.add_patch(Ellipse((-4.2, 0), 26.3, 10.34, angle=-84.5, fc='none', ec='#0000ff', lw=2.4))
ax.add_patch(Ellipse((4.2, 0), 24.76, 10.92, angle=82.9, fc='none', ec='#ff0000', lw=2.4))
ax.add_patch(Rectangle((-12.6, 16.4), 0.75, 4.35, fc='#ff0000', ec='none'))
ax.add_patch(Rectangle((-12.6, 12.1), 0.75, 4.3, fc='#0000ff', ec='none'))
ax.text(-11.85, 18.6, 'young', color='#ff0000', fontsize=7.5, weight='bold', va='center')
ax.text(-11.85, 14.3, 'old', color='#0000ff', fontsize=7.5, weight='bold', va='center')
for x, y, t in zip(opls_old_x, opls_old_y, opls_old_lab):
    ax.text(x, y, t, color='#0000ff', fontsize=8.3, weight='bold', ha='center', va='center')
for x, y, t in zip(opls_young_x, opls_young_y, opls_young_lab):
    ax.text(x, y, t, color='#ff0000', fontsize=8.3, weight='bold', ha='center', va='center')
ftext(320, 613, 'Scores (OPLS-DA)', weight='bold', ha='center', fontsize=12.5, color='#222222')
ftext(320, 1059, 't1 (7%)', weight='bold', ha='center', fontsize=10)
ftext(61, 823, 'to1', weight='bold', ha='center', rotation=90, fontsize=10.5)
for x, t, v in zip([98, 158, 239, 401, 461, 501], model_heads, model_vals):
    ftext(x, 1038, t, ha='center', fontsize=12, color='#222222')
    ftext(x, 1058, v, ha='center', fontsize=12, color='#222222')

# ---- C ----
ax = px_ax(89, 1208, 636, 1697)
ax.set_xlim(-8.09, 8.09)
ax.set_ylim(0, 13.7)
ax.set_axisbelow(True)
ax.set_xticks([-8, -4, 0, 4, 8])
ax.set_yticks([5, 10])
ax.set_xticks([-6, -2, 2, 6], minor=True)
ax.set_yticks([2.5, 7.5, 12.5], minor=True)
ax.grid(True, which='major', color='#ebebeb', lw=1.3)
ax.grid(True, which='minor', color='#f0f0f0', lw=0.7)
ax.tick_params(which='minor', length=0)
ax.tick_params(which='major', labelsize=10, colors='#4d4d4d', length=3, width=0.8)
for s in ax.spines.values():
    s.set_color('#666666')
    s.set_linewidth(1.1)
for v in [-0.585, 0, 0.585]:
    ax.axvline(v, color='#707070', lw=1.1, dashes=(4, 3))
ax.axhline(1.3, color='#707070', lw=1.1, dashes=(4, 3))
ax.scatter(ns_x, ns_y, s=28, color=sig_colors[0], lw=0, zorder=3)
ax.scatter(down_x, down_y, s=28, color=sig_colors[1], lw=0, zorder=3)
ax.scatter(up_x, up_y, s=28, color=sig_colors[2], lw=0, zorder=3)
ax.annotate('', xy=(0.72, 5.5), xytext=(0.42, 5.26), arrowprops=dict(arrowstyle='-', color='k', lw=1))
for x, y, t in zip(volcano_name_x, volcano_name_y, volcano_names):
    ax.text(x, y, t, ha='center', va='center', fontsize=10.4, color='#111111', zorder=4)
ftext(90, 1191, 'young/old', fontsize=12.5, color='#222222')
ftext(363, 1724, 'log2(fold change)', ha='center', fontsize=11.8, color='#222222')
ftext(59, 1452, '-log10(P value)', ha='center', rotation=90, fontsize=11.8, color='#222222')
ftext(660, 1595, 'Significant', fontsize=13, color='#222222')
for y, c, t in zip([1627, 1657, 1687], sig_colors, legend_sig):
    lg.scatter([675], [y], s=26, color=c, lw=0)
    ftext(699, y, t, fontsize=10.5, color='#222222')

# ---- D ----
cmap = LinearSegmentedColormap.from_list('rb', ['#053061', '#2166ac', '#4393c3', '#92c5de', '#d1e5f0', '#e0e0e0',
                                                '#fddbc7', '#f4a582', '#d6604d', '#b2182b', '#67001f'])
ax = px_ax(789, 59, 1774, 1405)
ax.pcolormesh(heat, cmap=cmap, vmin=-7, vmax=7, edgecolors='#a3a3a3', linewidth=1.0)
ax.set_xlim(0, 64)
ax.set_ylim(80, 0)
ax.set_xticks(np.arange(64) + 0.5)
ax.set_xticklabels(col_old + col_young, rotation=270, fontsize=11, ha='center', va='top')
ax.yaxis.tick_right()
ax.set_yticks(np.arange(80) + 0.5)
ax.set_yticklabels(row_names, fontsize=12.6, va='center_baseline')
ax.tick_params(length=0, pad=5)
ax.tick_params(axis='x', pad=5, colors='#333333')
ax.tick_params(axis='y', colors='#222222')
for s in ax.spines.values():
    s.set_visible(False)

ax = px_ax(789, 36, 1774, 53.5)
ax.pcolormesh(np.array([[0] * len(col_old) + [1] * len(col_young)]), cmap=ListedColormap(['#E8174B', '#3CB44B']),
              vmin=0, vmax=1, edgecolors='#a3a3a3', linewidth=1.0)
ax.axis('off')
ftext(1780, 45, 'class', weight='bold', fontsize=13)

ax = px_ax(660, 59, 789, 1405)
ax.set_xlim(129, 0)
ax.set_ylim(80, 0)
ax.axis('off')
draw_tree(ax, row_tree)

# heatmap legends
ftext(1090, 1530, 'class', weight='bold', fontsize=17)
lg.add_patch(Rectangle((1165, 1512), 34, 34, fc='#E8174B', ec='#a3a3a3', lw=2))
lg.add_patch(Rectangle((1250, 1512), 34, 34, fc='#3CB44B', ec='#a3a3a3', lw=2))
ftext(1206, 1530, 'old', fontsize=16.5, color='#222222')
ftext(1292, 1530, 'young', fontsize=16.5, color='#222222')
ax = px_ax(1090, 1558, 1535, 1588)
ax.imshow(np.linspace(-6.8, 6.96, 300).reshape(1, -1), cmap=cmap, vmin=-7, vmax=7, aspect='auto', extent=(-6.8, 6.96, 0, 1))
ax.set_yticks([])
ax.set_xticks([-6, -4, -2, 0, 2, 4, 6])
ax.set_xticklabels(['−6', '−4', '−2', '0', '2', '4', '6'], fontsize=16.5, color='#222222')
ax.tick_params(length=0, pad=5)
for s in ax.spines.values():
    s.set_visible(False)

fig.savefig('out.png', dpi=100)
